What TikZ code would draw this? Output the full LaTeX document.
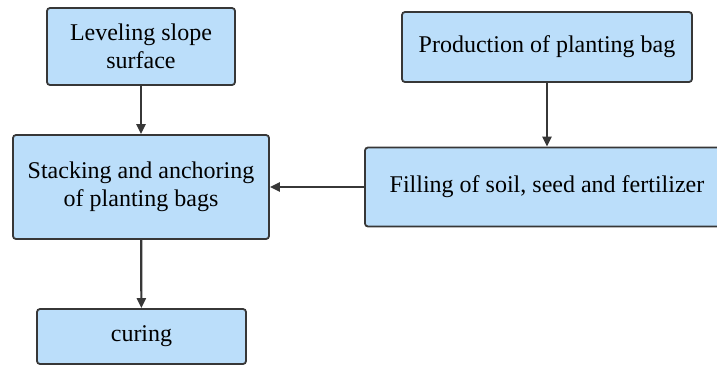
\documentclass[tikz,border=0pt]{standalone}
\usepackage{fontspec}
\setmainfont{Liberation Serif}
\newfontfamily\stepfont{Liberation Serif}
\usepackage{tikz}
\usepackage{xcolor}
\usetikzlibrary{positioning, arrows.meta}

\definecolor{boxblue}{RGB}{187,222,250}
\definecolor{edgegray}{RGB}{55,55,55}

\tikzset{
  stepbox/.style={rectangle, rounded corners=1.5pt, draw=edgegray, line width=0.9pt,
    fill=boxblue, align=center, inner sep=2pt,
    font=\fontsize{12}{14}\stepfont\selectfont},
  flow/.style={draw=edgegray, line width=1.1pt, -{Triangle[length=5pt,width=4.5pt]}}
}

\begin{document}
\begin{tikzpicture}[x=0.5pt, y=-0.5pt]
        \useasboundingbox (0,0) rectangle (717,365);
        \node[stepbox, minimum width=94pt, minimum height=38.5pt] (level) at (141,46.5) {Leveling slope\\surface};
        \node[stepbox, minimum width=128pt, minimum height=52pt] (stack) at (141,187) {Stacking and anchoring\\of planting bags};
        \node[stepbox, minimum width=104.5pt, minimum height=27.5pt] (cure) at (141.5,336.5) {curing};
        \node[stepbox, minimum width=145pt, minimum height=35pt] (prod) at (547,47) {Production of planting bag};
        \node[stepbox, minimum width=182pt, minimum height=39.5pt] (fill) at (547,187) {Filling of soil, seed and fertilizer};
        \draw[flow] (level) -- (stack);
        \draw[flow] (stack) -- (cure);
        \draw[flow] (prod) -- (fill);
        \draw[flow] (fill) -- (stack);
    \end{tikzpicture}
\end{document}
